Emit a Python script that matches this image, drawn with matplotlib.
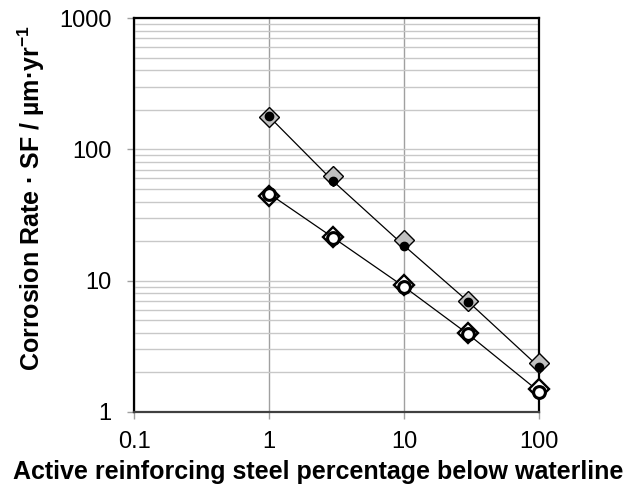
import matplotlib
matplotlib.use('Agg')
import matplotlib.pyplot as plt
from matplotlib.ticker import LogLocator, FixedLocator, NullFormatter, FuncFormatter

plt.rcParams['font.family'] = ['Liberation Sans', 'DejaVu Sans']
plt.rcParams['mathtext.fontset'] = 'custom'
plt.rcParams['mathtext.rm'] = 'Liberation Sans'
plt.rcParams['mathtext.bf'] = 'Liberation Sans:bold'

# Dados
steel_pct = [1, 3, 10, 30, 100]
rate_upper_diamond = [176, 62.7, 20.4, 7.0, 2.36]
rate_upper_dot = [178, 57, 18.5, 6.9, 2.2]
rate_lower_diamond = [44.5, 21.4, 9.3, 4.0, 1.5]
rate_lower_circle = [46, 21.2, 9.0, 3.9, 1.43]

fig = plt.figure(figsize=(6.36, 4.91), dpi=100)
ax = fig.add_axes([0.2107, 0.1609, 0.6368, 0.8024])

ax.set_xscale('log')
ax.set_yscale('log')
ax.set_xlim(0.1, 100)
ax.set_ylim(1, 1000)

# Grade: horizontais maiores e menores, verticais só nas décadas
ax.yaxis.set_minor_locator(LogLocator(base=10, subs=range(2, 10)))
ax.yaxis.set_minor_formatter(NullFormatter())
ax.xaxis.set_minor_locator(FixedLocator([]))
ax.grid(True, axis='y', which='both', color='#c8c8c8', linewidth=1.0)
ax.grid(True, axis='x', which='major', color='#a0a0a0', linewidth=1.0)
ax.set_axisbelow(True)

fmt = FuncFormatter(lambda v, p: '%g' % v)
ax.xaxis.set_major_formatter(fmt)
ax.yaxis.set_major_formatter(fmt)
ax.tick_params(which='major', length=5, color='#a0a0a0', width=1, labelsize=17)
ax.tick_params(axis='x', pad=9)
ax.tick_params(axis='y', pad=11)
ax.tick_params(which='minor', length=0)

# Séries com linha
ax.plot(steel_pct, rate_upper_dot, '-', color='black', linewidth=0.9, zorder=3)
ax.plot(steel_pct, rate_lower_circle, '-', color='black', linewidth=0.9, zorder=3)

ax.plot(steel_pct, rate_upper_diamond, 'D', markersize=10, markerfacecolor='#c0c0c0',
        markeredgecolor='black', markeredgewidth=1.0, linestyle='none', zorder=4,
        clip_on=False)
ax.plot(steel_pct, rate_lower_diamond, 'D', markersize=10.5, markerfacecolor='white',
        markeredgecolor='black', markeredgewidth=1.7, linestyle='none', zorder=4,
        clip_on=False)
ax.plot(steel_pct, rate_upper_dot, 'o', markersize=6, color='black',
        linestyle='none', zorder=5, clip_on=False)
ax.plot(steel_pct, rate_lower_circle, 'o', markersize=8.5, markerfacecolor='white',
        markeredgecolor='black', markeredgewidth=2.2, linestyle='none', zorder=5,
        clip_on=False)

for lado in ['left', 'top', 'right']:
    ax.spines[lado].set_color('black')
    ax.spines[lado].set_linewidth(1.6)
ax.spines['bottom'].set_color('#404040')
ax.spines['bottom'].set_linewidth(1.6)

ax.set_xlabel('Active reinforcing steel percentage below waterline',
              fontsize=18, fontweight='bold')
ax.set_ylabel('Corrosion Rate · SF / µm·yr$^{\\mathbf{-1}}$',
              fontsize=18, fontweight='bold')
ax.xaxis.set_label_coords(0.4556, -0.123)
ax.yaxis.set_label_coords(-0.215, 0.543)

plt.savefig('out.png', dpi=100)
plt.close()
